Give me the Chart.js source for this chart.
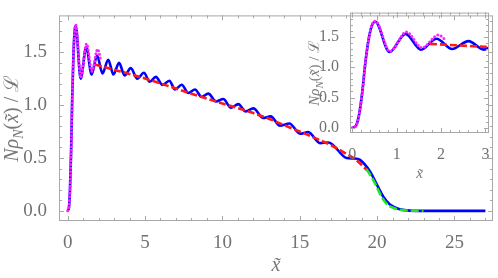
<!DOCTYPE html>
<html>
<head>
<meta charset="utf-8">
<script src="https://cdn.jsdelivr.net/npm/chart.js@4"></script>
<style>
  body { margin: 0; background: #fff; }
  #wrap { position: relative; width: 498px; height: 278px; }
  canvas { position: absolute; top: 0; }
  #main { left: 0; }
  #inset { left: 300px; }
</style>
</head>
<body>
<div id="wrap">
  <canvas id="main" width="498" height="278"></canvas>
  <canvas id="inset" width="198" height="185"></canvas>
</div>
<script>
// tick labels
const xTicks = [0, 5, 10, 15, 20, 25];
const yTicks = [0, 0.5, 1, 1.5];
const insetXTicks = [0, 1, 2, 3];
const insetYTicks = [0, 0.5, 1, 1.5];

// exact density (blue, solid)
const blueX = [0, 0.08, 0.15, 0.22, 0.3, 0.38, 0.45, 0.52, 0.84, 1.2, 1.55, 1.9, 2.25, 2.62, 2.96,
  3.32, 3.68, 4.08, 4.5, 4.93, 5.3, 5.7, 6.13, 6.57, 6.94, 7.37, 7.8, 8.23, 8.66, 9.09, 9.59,
  10.06, 10.55, 11.03, 11.5, 12.0, 12.64, 13.12, 13.72, 14.33, 15.02, 15.55, 16.31, 16.85,
  18.03, 18.5, 18.9, 19.2, 19.54, 19.97, 20.4, 20.83, 21.48, 22.1, 23, 27];
const blueY = [0, 0.03, 0.2, 0.55, 1.1, 1.5, 1.7, 1.75, 1.25, 1.55, 1.29, 1.47, 1.3, 1.43, 1.29,
  1.4, 1.28, 1.35, 1.25, 1.306, 1.222, 1.267, 1.19, 1.231, 1.148, 1.193, 1.115, 1.148, 1.077, 1.109, 1.035,
  1.058, 0.975, 1.01, 0.94, 0.969, 0.879, 0.894, 0.805, 0.826, 0.73, 0.745, 0.641, 0.647,
  0.5, 0.495, 0.483, 0.44, 0.373, 0.253, 0.134, 0.06, 0.015, 0.002, 0, 0];

// local density approximation (red, dashed)
const redX = [1.75, 3, 4, 5, 6, 7, 8, 9, 10, 11, 12, 13, 14, 15, 16, 17, 18, 18.68, 19.33];
const redY = [1.385, 1.335, 1.295, 1.252, 1.205, 1.157, 1.108, 1.062, 1.015, 0.972, 0.925, 0.872,
  0.81, 0.75, 0.688, 0.622, 0.54, 0.477, 0.387];

// wall approximation (magenta, dotted)
const magX = [0, 0.08, 0.15, 0.22, 0.3, 0.38, 0.45, 0.52, 0.85, 1.22, 1.57, 1.94, 2.12];
const magY = [0, 0.03, 0.2, 0.55, 1.1, 1.5, 1.71, 1.76, 1.26, 1.58, 1.32, 1.53, 1.44];

// edge approximation (green, dashed)
const greenX = [19.3, 19.6, 19.9, 20.3, 20.7, 21.1, 21.5, 22, 23];
const greenY = [0.395, 0.33, 0.25, 0.13, 0.055, 0.025, 0.01, 0.003, 0];

const pts = (xs, ys) => xs.map((x, i) => ({ x: x, y: ys[i] }));
const SERIF = '"Liberation Serif", "DejaVu Serif", serif';
const GREY = '#727272';

// y label  N rho_N(x~) / L
const yLabel = [['N', 'i'], ['ρ', 'i'], ['N', 'sub'], ['(', ''], ['x\u0303', 'i'], [')', ''], [' / ', ''], ['ℒ', '']];

function drawRich(ctx, parts, cx, cy, size, rotate) {
  ctx.save();
  ctx.translate(cx, cy);
  if (rotate) ctx.rotate(-Math.PI / 2);
  ctx.fillStyle = '#787878';
  ctx.textBaseline = 'alphabetic';
  const fonts = parts.map(p => {
    const s = p[1] === 'sub' ? Math.round(size * 0.7) : size;
    return (p[1] ? 'italic ' : '') + s + 'px ' + SERIF;
  });
  let w = 0;
  parts.forEach((p, i) => { ctx.font = fonts[i]; w += ctx.measureText(p[0]).width; });
  let x = -w / 2;
  parts.forEach((p, i) => {
    ctx.font = fonts[i];
    ctx.fillText(p[0], x, p[1] === 'sub' ? size * 0.25 : 0);
    x += ctx.measureText(p[0]).width;
  });
  ctx.restore();
}

// mathematica-like frame with inward ticks on all sides
const framePlugin = {
  id: 'frame',
  afterDraw(chart, args, o) {
    const { ctx, chartArea: a } = chart;
    const sx = chart.scales.x, sy = chart.scales.y;
    ctx.save();
    ctx.strokeStyle = '#a8a8a8';
    ctx.lineWidth = 1;
    ctx.strokeRect(a.left + 0.5, a.top + 0.5, a.right - a.left - 1, a.bottom - a.top - 1);
    const mark = (v, isX, len) => {
      ctx.beginPath();
      if (isX) {
        const p = Math.round(sx.getPixelForValue(v)) + 0.5;
        ctx.moveTo(p, a.bottom); ctx.lineTo(p, a.bottom - len);
        ctx.moveTo(p, a.top); ctx.lineTo(p, a.top + len);
      } else {
        const p = Math.round(sy.getPixelForValue(v)) + 0.5;
        ctx.moveTo(a.left, p); ctx.lineTo(a.left + len, p);
        ctx.moveTo(a.right, p); ctx.lineTo(a.right - len, p);
      }
      ctx.stroke();
    };
    for (let i = Math.ceil(sx.min / o.xMinor); i * o.xMinor <= sx.max; i++) mark(i * o.xMinor, true, 3);
    for (let i = Math.ceil(sy.min / o.yMinor); i * o.yMinor <= sy.max; i++) mark(i * o.yMinor, false, 3);
    o.xMajor.forEach(v => mark(v, true, 5));
    o.yMajor.forEach(v => mark(v, false, 5));
    ctx.restore();
    drawRich(ctx, [['x\u0303', 'i']], (a.left + a.right) / 2, o.xTitleY, o.titleSize, false);
    drawRich(ctx, yLabel, o.yTitleX, (a.top + a.bottom) / 2, o.titleSize, true);
  }
};

function datasets() {
  return [
    { data: pts(greenX, greenY), borderColor: '#22e622', borderDash: [8, 3], borderWidth: 2.6, order: 1 },
    { data: pts(magX, magY), borderColor: '#ff22ff', borderDash: [0, 3.6], borderCapStyle: 'round', borderWidth: 3, order: 1 },
    { data: pts(redX, redY), borderColor: '#ff1a1a', borderDash: [7, 3], borderWidth: 2.6, order: 1 },
    { data: pts(blueX, blueY), borderColor: '#0000ff', borderWidth: 2.6, order: 2 }
  ];
}

function makeChart(id, cfg) {
  return new Chart(document.getElementById(id), {
    type: 'line',
    data: { datasets: datasets() },
    options: {
      responsive: false,
      animation: false,
      events: [],
      layout: { padding: cfg.padding },
      elements: { point: { radius: 0 }, line: { cubicInterpolationMode: 'monotone', fill: false } },
      plugins: { legend: { display: false }, tooltip: { enabled: false }, frame: cfg.frame },
      scales: {
        x: {
          type: 'linear', min: cfg.xMin, max: cfg.xMax,
          grid: { display: false }, border: { display: false },
          afterBuildTicks: s => { s.ticks = cfg.xTicks.map(v => ({ value: v })); },
          afterFit: s => { s.height = cfg.xHeight; },
          ticks: { padding: cfg.xPad, color: GREY, font: { family: SERIF, size: cfg.tickSize }, maxRotation: 0, autoSkip: false,
            callback: v => String(v) }
        },
        y: {
          type: 'linear', min: cfg.yMin, max: cfg.yMax,
          grid: { display: false }, border: { display: false },
          afterBuildTicks: s => { s.ticks = cfg.yTicks.map(v => ({ value: v })); },
          afterFit: s => { s.width = cfg.yWidth; },
          ticks: { padding: cfg.yPad, color: GREY, font: { family: SERIF, size: cfg.tickSize }, autoSkip: false,
            callback: v => v.toFixed(1) }
        }
      }
    },
    plugins: [framePlugin]
  });
}

makeChart('main', {
  padding: { top: 3, right: 5, left: 0, bottom: 0 },
  xMin: -0.56, xMax: 27.49, yMin: -0.096, yMax: 1.849,
  xTicks: xTicks, yTicks: yTicks, xHeight: 57, yWidth: 59, xPad: 3, yPad: 4, tickSize: 19,
  frame: { xMajor: xTicks, yMajor: yTicks, xMinor: 1, yMinor: 0.1, xTitleY: 271, yTitleX: 18, titleSize: 20 }
});

makeChart('inset', {
  padding: { top: 9, right: 9, left: 0, bottom: 0 },
  xMin: -0.05, xMax: 3.08, yMin: -0.085, yMax: 1.9,
  xTicks: insetXTicks, yTicks: insetYTicks, xHeight: 52, yWidth: 50, xPad: 4, yPad: 3, tickSize: 16,
  frame: { xMajor: insetXTicks, yMajor: insetYTicks, xMinor: 0.2, yMinor: 0.1, xTitleY: 178, yTitleX: 19, titleSize: 15 }
});
</script>
</body>
</html>
